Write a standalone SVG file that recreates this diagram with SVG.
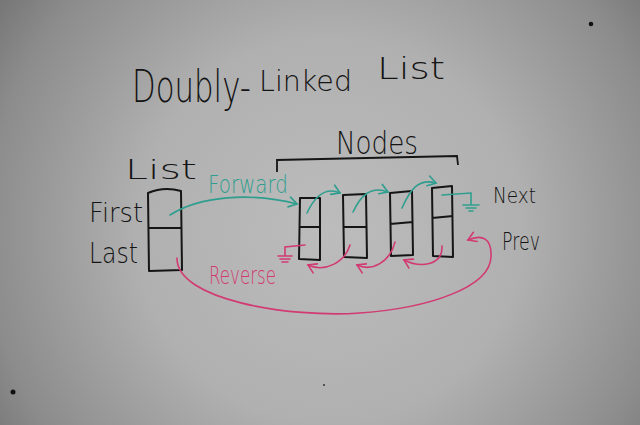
<svg xmlns="http://www.w3.org/2000/svg" width="640" height="425" viewBox="0 0 640 425">
<defs>
<radialGradient id="bg" cx="330" cy="230" r="430" gradientUnits="userSpaceOnUse">
<stop offset="0" stop-color="#bcbcbc"/>
<stop offset="0.45" stop-color="#b0b0b0"/>
<stop offset="0.8" stop-color="#8c8c8c"/>
<stop offset="1" stop-color="#6c6c6c"/>
</radialGradient>
<marker id="ah-teal" viewBox="0 0 12 12" refX="10" refY="6" markerWidth="12" markerHeight="12" markerUnits="userSpaceOnUse" orient="auto">
<path d="M2,1 L10,6 L2,11" fill="none" stroke="#2f9e8f" stroke-width="1.6" stroke-linecap="round"/>
</marker>
<marker id="ah-pink" viewBox="0 0 12 12" refX="10" refY="6" markerWidth="12" markerHeight="12" markerUnits="userSpaceOnUse" orient="auto">
<path d="M2,1 L10,6 L2,11" fill="none" stroke="#d23a72" stroke-width="1.6" stroke-linecap="round"/>
</marker>
<style>
.ink{font-family:"DejaVu Sans","Liberation Sans",sans-serif;font-weight:200;fill:#141414}
.teal{font-family:"DejaVu Sans","Liberation Sans",sans-serif;font-weight:200;fill:#2f9e8f}
.pink{font-family:"DejaVu Sans","Liberation Sans",sans-serif;font-weight:200;fill:#d23a72}
.box{fill:none;stroke:#151515;stroke-width:2;stroke-linejoin:round}
.tl{fill:none;stroke:#2f9e8f;stroke-width:1.6;stroke-linecap:round}
.pk{fill:none;stroke:#d23a72;stroke-width:1.6;stroke-linecap:round}
</style>
</defs>
<rect width="640" height="425" fill="url(#bg)"/>
<circle cx="591" cy="24" r="2.3" fill="#111"/>
<circle cx="13" cy="392" r="2.5" fill="#111"/>
<circle cx="324" cy="385" r="1" fill="#333"/>

<g id="title">
<text class="ink" transform="translate(132,102) scale(0.7,1)" font-size="44">Doubly-</text>
<text class="ink" x="259" y="91" font-size="28" textLength="93" lengthAdjust="spacingAndGlyphs">Linked</text>
<text class="ink" x="377" y="79" font-size="30" textLength="68" lengthAdjust="spacingAndGlyphs">List</text>
</g>

<g id="list">
<text class="ink" x="125" y="179" font-size="26" textLength="72" lengthAdjust="spacingAndGlyphs">List</text>
<text class="ink" x="89" y="222" font-size="27" textLength="54" lengthAdjust="spacingAndGlyphs">First</text>
<text class="ink" x="89" y="263" font-size="28" textLength="49" lengthAdjust="spacingAndGlyphs">Last</text>
<path class="box" d="M148,193 Q164,186 181,191 L182,270 L149,271 Z M148,228 L182,228"/>
</g>

<g id="nodes-label">
<text class="ink" x="336" y="154" font-size="32" textLength="82" lengthAdjust="spacingAndGlyphs">Nodes</text>
<path d="M277,172 L277,160 L457,156 L458,165" fill="none" stroke="#151515" stroke-width="1.8"/>
</g>

<g id="node1"><path class="box" d="M300,198 L320,198 L320,260 L299,259 Z M300,227 L320,227"/></g>
<g id="node2"><path class="box" d="M343,195 L366,194 L367,258 L344,257 Z M343,227 L367,227"/></g>
<g id="node3"><path class="box" d="M390,193 L412,191 L413,255 L391,256 Z M390,224 L413,222"/></g>
<g id="node4"><path class="box" d="M432,188 L452,186 L453,257 L433,256 Z M432,218 L453,216"/></g>

<g id="labels">
<text class="teal" x="208" y="193" font-size="24" textLength="80" lengthAdjust="spacingAndGlyphs">Forward</text>
<text class="pink" x="209" y="284" font-size="24" textLength="67" lengthAdjust="spacingAndGlyphs">Reverse</text>
<text class="ink" x="493" y="203" font-size="21" textLength="43" lengthAdjust="spacingAndGlyphs">Next</text>
<text class="ink" x="502" y="250" font-size="25" textLength="38" lengthAdjust="spacingAndGlyphs">Prev</text>
</g>

<g id="connectors">
<path class="tl" d="M170,215 C200,196 250,192 297,204" marker-end="url(#ah-teal)"/>
<path class="tl" d="M307,213 C314,198 324,186 340,193" marker-end="url(#ah-teal)"/>
<path class="tl" d="M353,212 C360,197 370,185 388,192" marker-end="url(#ah-teal)"/>
<path class="tl" d="M402,208 C410,190 418,178 436,183" marker-end="url(#ah-teal)"/>
<path class="tl" d="M442,195 L471,193 L471,205 M463,205 L479,205 M466,208 L476,208 M469,211 L473,211"/>
<path class="pk" d="M305,245 L285,247 L285,256 M278,256 L292,256 M280,259 L290,259 M282,262 L288,262"/>
<path class="pk" d="M350,245 C345,262 325,273 308,265" marker-end="url(#ah-pink)"/>
<path class="pk" d="M395,242 C390,262 372,272 357,265" marker-end="url(#ah-pink)"/>
<path class="pk" d="M442,246 C443,266 420,268 404,260" marker-end="url(#ah-pink)"/>
<path class="pk" d="M177,258 C176,300 290,318 360,313 C430,308 490,287 491,257 C492,238 482,234 468,240" marker-end="url(#ah-pink)"/>
</g>
</svg>
